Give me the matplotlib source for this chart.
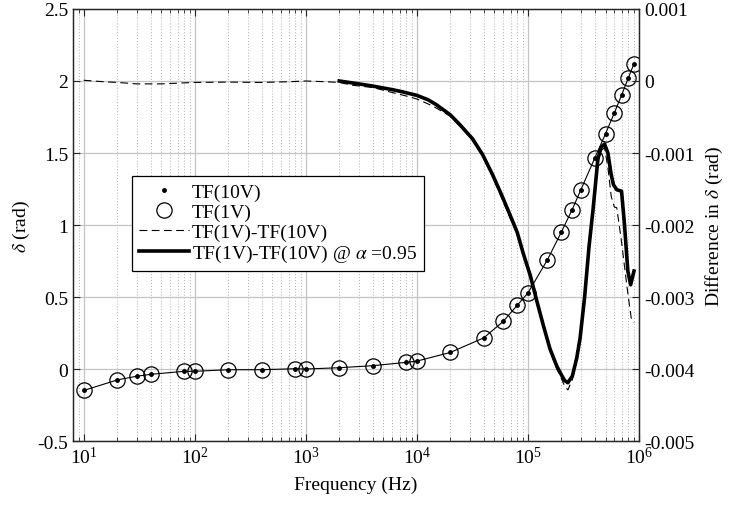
import matplotlib.pyplot as plt
from matplotlib.ticker import FuncFormatter, LogLocator, NullFormatter

plt.rcParams['font.family'] = ['Liberation Serif', 'DejaVu Serif']
plt.rcParams['mathtext.fontset'] = 'stix'
plt.rcParams['axes.unicode_minus'] = False
plt.rcParams['font.size'] = 14

# Données
freq_pts = [10, 20, 30, 40, 80, 100, 200, 400, 800, 1000, 2000, 4000, 8000, 10000,
            20000, 40000, 60000, 80000, 100000, 150000, 200000, 250000, 300000,
            400000, 500000, 600000, 700000, 800000, 900000]
tf_1v = [-0.149, -0.076, -0.050, -0.037, -0.016, -0.016, -0.005, -0.005, 0.002, 0.0,
         0.009, 0.023, 0.046, 0.055, 0.115, 0.216, 0.331, 0.442, 0.528, 0.759,
         0.951, 1.106, 1.245, 1.465, 1.634, 1.778, 1.905, 2.020, 2.118]
tf_10v = [-0.149, -0.076, -0.050, -0.037, -0.016, -0.016, -0.005, -0.005, 0.002, 0.0,
          0.009, 0.023, 0.046, 0.055, 0.115, 0.216, 0.331, 0.442, 0.528, 0.759,
          0.951, 1.106, 1.245, 1.465, 1.634, 1.778, 1.905, 2.020, 2.118]

# différence brute (en 1e-3 rad)
freq_diff = [10, 15, 20, 30, 50, 70, 100, 200, 400, 700, 1000, 1500, 2000, 2650, 4000,
             6000, 8100, 10000, 14000, 20000, 24500, 31600, 39000, 48000, 59000,
             69000, 80000, 91000, 105000, 120000, 138000, 158000, 182000, 200000,
             214000, 229000, 251000, 275000, 295000, 324000, 355000, 385000,
             427000, 457000, 490000, 525000, 562000, 600000, 631000, 692000,
             776000, 851000, 902000]
diff_raw = [0.01, -0.01, -0.02, -0.04, -0.04, -0.03, -0.02, -0.015, -0.02, -0.01, 0.0,
            -0.01, -0.02, -0.06, -0.09, -0.16, -0.21, -0.25, -0.35, -0.49, -0.63,
            -0.82, -1.04, -1.32, -1.65, -1.90, -2.12, -2.42, -2.72, -3.07, -3.42,
            -3.75, -4.00, -4.13, -4.24, -4.29, -4.15, -3.88, -3.60, -3.02, -2.32,
            -1.83, -1.12, -0.96, -0.93, -1.20, -1.60, -1.75, -1.76, -2.20, -2.83,
            -3.29, -3.36]

# différence lissée alpha = 0.95 (en 1e-3 rad)
freq_alpha = [2000, 3000, 4000, 6000, 7400, 10000, 12600, 15000, 20000, 24500, 31600,
              39000, 48000, 59000, 69000, 80000, 91000, 105000, 120000, 138000,
              158000, 182000, 200000, 214000, 229000, 251000, 275000, 295000,
              324000, 355000, 385000, 427000, 457000, 490000, 525000, 562000,
              589000, 631000, 697000, 741000, 794000, 841000, 902000]
diff_alpha = [0.0, -0.04, -0.07, -0.12, -0.15, -0.20, -0.26, -0.33, -0.47, -0.61,
              -0.80, -1.02, -1.30, -1.61, -1.86, -2.10, -2.40, -2.70, -3.05, -3.40,
              -3.72, -3.96, -4.08, -4.16, -4.19, -4.10, -3.85, -3.57, -3.00, -2.30,
              -1.80, -1.08, -0.92, -0.875, -1.00, -1.30, -1.44, -1.51, -1.53, -2.00,
              -2.64, -2.83, -2.64]

fig = plt.figure(figsize=(7.29, 5.10), dpi=100)
ax1 = fig.add_axes([0.1001, 0.1333, 0.7764, 0.8471])
ax2 = ax1.twinx()

# courbe de référence + points
ax1.plot(freq_pts, tf_1v, '-', color='black', lw=0.8)
h_dot, = ax1.plot(freq_pts, tf_10v, '.', color='black', markersize=5, label='TF(10V)')
h_circ, = ax1.plot(freq_pts, tf_1v, 'o', markerfacecolor='none', markeredgecolor='black',
                   markersize=11, markeredgewidth=0.9, label='TF(1V)')

h_dash, = ax2.plot(freq_diff, [v * 1e-3 for v in diff_raw], color='black', lw=0.8,
                   dashes=(7, 4), label='TF(1V)-TF(10V)')
h_thick, = ax2.plot(freq_alpha, [v * 1e-3 for v in diff_alpha], color='black', lw=2.6,
                    label=r'TF(1V)-TF(10V) @ $\alpha$ =0.95')

ax1.set_xscale('log')
ax1.set_xlim(8, 1e6)
ax1.set_ylim(-0.5, 2.5)
ax2.set_ylim(-0.005, 0.001)
ax1.set_yticks([-0.5, 0, 0.5, 1, 1.5, 2, 2.5])
ax2.set_yticks([-0.005, -0.004, -0.003, -0.002, -0.001, 0, 0.001])
ax1.yaxis.set_major_formatter(FuncFormatter(lambda v, p: '%g' % v))
ax2.yaxis.set_major_formatter(FuncFormatter(lambda v, p: '%g' % round(v, 4)))
ax1.xaxis.set_major_locator(LogLocator(base=10, numticks=10))
ax1.xaxis.set_minor_locator(LogLocator(base=10, subs=range(2, 10), numticks=10))
ax1.xaxis.set_minor_formatter(NullFormatter())

ax1.grid(True, which='major', color='#c4c4c4', lw=0.9, ls='-')
ax1.grid(True, which='minor', axis='x', color='#b0b0b0', lw=0.7, ls=(0, (1, 2)))
ax1.set_axisbelow(True)

for ax in (ax1, ax2):
    ax.tick_params(which='both', direction='in', colors='#262626', labelcolor='black')
    ax.tick_params(which='major', length=5)
    ax.tick_params(which='minor', length=3)
    for s in ax.spines.values():
        s.set_color('#262626')
        s.set_linewidth(0.9)
ax1.tick_params(axis='x', which='both', top=True)

ax1.set_xlabel('Frequency (Hz)', labelpad=6)
ax1.set_ylabel(r'$\delta$ (rad)')
ax2.set_ylabel(r'Difference in $\delta$ (rad)', labelpad=7)

leg = ax2.legend(handles=[h_dot, h_circ, h_dash, h_thick], loc='upper left',
                 bbox_to_anchor=(0.104, 0.613), fancybox=False, framealpha=1,
                 edgecolor='black', handlelength=2.6, handletextpad=0.15,
                 labelspacing=0.12, borderpad=0.35, borderaxespad=0)
leg.get_frame().set_linewidth(0.9)

plt.savefig('out.png')
